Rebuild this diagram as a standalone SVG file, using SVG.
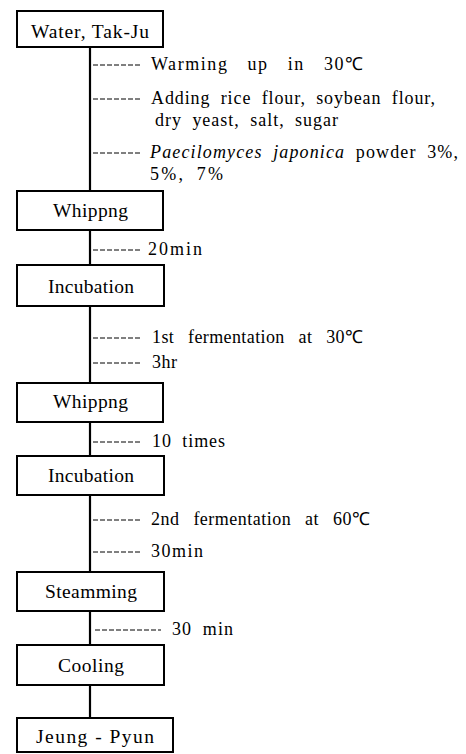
<svg xmlns="http://www.w3.org/2000/svg" width="466" height="754" viewBox="0 0 466 754">
<style>
.box{fill:#fff;stroke:#000;stroke-width:2}
.bt{font-size:19.5px;fill:#000}
.st{font-size:18px;fill:#000;word-spacing:5px}
.main{stroke:#000;stroke-width:2.2;fill:none}
.lead{stroke:#000;stroke-width:1;stroke-dasharray:5,2;fill:none}
</style>
<rect width="466" height="754" fill="#fff"/>
<g id="connectors">
<line class="main" x1="90" y1="47" x2="90" y2="191"/>
<line class="main" x1="90" y1="230" x2="90" y2="265"/>
<line class="main" x1="90" y1="306" x2="90" y2="383"/>
<line class="main" x1="90" y1="422" x2="90" y2="456"/>
<line class="main" x1="90" y1="495" x2="90" y2="572"/>
<line class="main" x1="90" y1="611" x2="90" y2="645"/>
<line class="main" x1="90" y1="685" x2="90" y2="718"/>
<line class="lead" x1="93" y1="65" x2="141" y2="65"/>
<line class="lead" x1="93" y1="99" x2="141" y2="99"/>
<line class="lead" x1="93" y1="153" x2="141" y2="153"/>
<line class="lead" x1="93" y1="250" x2="141" y2="250"/>
<line class="lead" x1="93" y1="338" x2="141" y2="338"/>
<line class="lead" x1="93" y1="363" x2="141" y2="363"/>
<line class="lead" x1="93" y1="442" x2="141" y2="442"/>
<line class="lead" x1="93" y1="520" x2="141" y2="520"/>
<line class="lead" x1="93" y1="552" x2="141" y2="552"/>
<line class="lead" x1="95" y1="630" x2="161" y2="630"/>
</g>
<g id="labels" font-family="Liberation Serif, Times New Roman, serif">
<text class="st" x="151" y="70" textLength="212" lengthAdjust="spacing" style="word-spacing:13px">Warming up in 30℃</text>
<text class="st" x="151" y="104" textLength="284" lengthAdjust="spacing">Adding rice flour, soybean flour,</text>
<text class="st" x="155" y="126" textLength="183" lengthAdjust="spacing">dry yeast, salt, sugar</text>
<text class="st" x="150" y="158" textLength="308" lengthAdjust="spacing"><tspan font-style="italic">Paecilomyces japonica</tspan> powder 3%,</text>
<text class="st" x="150" y="180" textLength="73" lengthAdjust="spacing">5%, 7%</text>
<text class="st" x="148" y="255" textLength="54" lengthAdjust="spacing">20min</text>
<text class="st" x="152" y="343" textLength="211" lengthAdjust="spacing" style="word-spacing:9px">1st fermentation at 30℃</text>
<text class="st" x="152" y="368" textLength="25" lengthAdjust="spacing">3hr</text>
<text class="st" x="152" y="447" textLength="73" lengthAdjust="spacing">10 times</text>
<text class="st" x="151" y="525" textLength="219" lengthAdjust="spacing" style="word-spacing:9px">2nd fermentation at 60℃</text>
<text class="st" x="151" y="557" textLength="52" lengthAdjust="spacing">30min</text>
<text class="st" x="172" y="635" textLength="61" lengthAdjust="spacing">30 min</text>
</g>
<g id="nodes" font-family="Liberation Serif, Times New Roman, serif">
<g id="n1"><rect class="box" x="17" y="11" width="146" height="36"/><text class="bt" x="31" y="38" textLength="118" lengthAdjust="spacing">Water, Tak-Ju</text></g>
<g id="n2"><rect class="box" x="17" y="191" width="146" height="39"/><text class="bt" x="53" y="217" textLength="75" lengthAdjust="spacing">Whippng</text></g>
<g id="n3"><rect class="box" x="17" y="265" width="147" height="41"/><text class="bt" x="48" y="293" textLength="86" lengthAdjust="spacing">Incubation</text></g>
<g id="n4"><rect class="box" x="17" y="383" width="146" height="39"/><text class="bt" x="53" y="408" textLength="75" lengthAdjust="spacing">Whippng</text></g>
<g id="n5"><rect class="box" x="17" y="456" width="147" height="39"/><text class="bt" x="48" y="482" textLength="86" lengthAdjust="spacing">Incubation</text></g>
<g id="n6"><rect class="box" x="17" y="572" width="147" height="39"/><text class="bt" x="45" y="598" textLength="92" lengthAdjust="spacing">Steamming</text></g>
<g id="n7"><rect class="box" x="17" y="645" width="147" height="40"/><text class="bt" x="58" y="672" textLength="66" lengthAdjust="spacing">Cooling</text></g>
<g id="n8"><rect class="box" x="17" y="718" width="156" height="34"/><text class="bt" x="36" y="743" textLength="118" lengthAdjust="spacing">Jeung - Pyun</text></g>
</g>
</svg>
